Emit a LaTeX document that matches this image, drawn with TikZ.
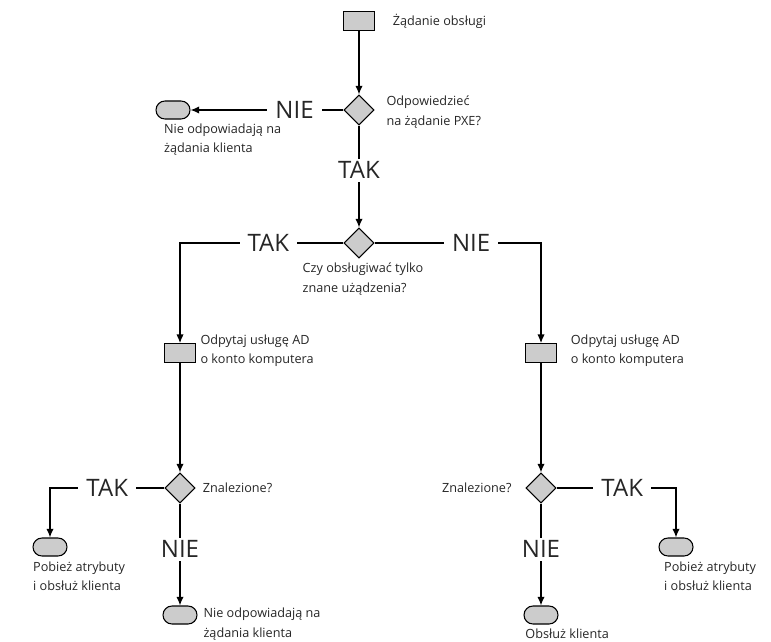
\documentclass[tikz,border=0pt]{standalone}
\usepackage{fontspec}
\setmainfont{Open Sans}
\usetikzlibrary{shapes.geometric,positioning,arrows.meta}

\tikzset{
  akcja/.style={draw, fill=black!20, rectangle, minimum width=23pt, minimum height=14pt, inner sep=0pt, line width=0.8pt},
  decyzja/.style={draw, fill=black!20, diamond, minimum width=22.5pt, minimum height=22.5pt, inner sep=0pt, line width=0.8pt},
  koniec/.style={draw, fill=black!20, rectangle, rounded corners=6.75pt, minimum width=25.5pt, minimum height=13.5pt, inner sep=0pt, line width=0.8pt},
  opis/.style={inner sep=0pt, align=left, text=black!85, font=\fontsize{9.5}{14.5}\selectfont},
  wybor/.style={fill=white, inner xsep=6pt, inner ysep=2pt, text=black!85, font=\fontsize{18}{18}\selectfont},
}

\begin{document}
\begin{tikzpicture}[on grid, >={Latex[length=6.5pt,width=5.5pt]}, line width=1pt]
   \useasboundingbox (0,0) rectangle (578.25pt,-481.5pt);

   \node[akcja] (start) at (269.25pt,-15.75pt) {};
   \node[decyzja] (pxe) [below=66.75pt of start] {};
   \node[koniec] (brak1) [left=139.5pt of pxe] {};
   \node[decyzja] (znane) [below=99.75pt of pxe] {};
   \node[akcja] (adL) [below left=82.5pt and 134.25pt of znane] {};
   \node[akcja] (adP) [below right=82.5pt and 136.5pt of znane] {};
   \node[decyzja] (znL) [below=101.25pt of adL] {};
   \node[decyzja] (znP) [below=101.25pt of adP] {};
   \node[koniec] (atrL) [below left=44.25pt and 97.5pt of znL] {};
   \node[koniec] (brak2) [below=95.25pt of znL] {};
   \node[koniec] (atrP) [below right=44.25pt and 101.25pt of znP] {};
   \node[koniec] (obsluz) [below=95.25pt of znP] {};

   % opisy
   \node[opis, anchor=west] (tStart) at ([xshift=13pt]start.east) {Żądanie obsługi};
   \node[opis, anchor=west] (tPxe) at ([xshift=8.5pt,yshift=-1.5pt]pxe.east) {Odpowiedzieć\\na żądanie PXE?};
   \node[opis, anchor=north west] (tBrak1) at ([xshift=6pt,yshift=-2.5pt]brak1.south west) {Nie odpowiadają na\\żądania klienta};
   \node[opis, anchor=north west] (tZnane) at ([xshift=-42.75pt,yshift=-3pt]znane.south) {Czy obsługiwać tylko\\znane użądzenia?};
   \node[opis, anchor=west] (tAdL) at ([xshift=3pt,yshift=1.5pt]adL.east) {Odpytaj usługę AD\\o konto komputera};
   \node[opis, anchor=west] (tAdP) at ([xshift=10pt,yshift=1.5pt]adP.east) {Odpytaj usługę AD\\o konto komputera};
   \node[opis, anchor=west] (tZnL) at ([xshift=5pt]znL.east) {Znalezione?};
   \node[opis, anchor=east] (tZnP) at ([xshift=-10pt]znP.west) {Znalezione?};
   \node[opis, anchor=north west] (tAtrL) at ([yshift=-3.5pt]atrL.south west) {Pobież atrybuty\\i obsłuż klienta};
   \node[opis, anchor=north west] (tBrak2) at ([xshift=4pt,yshift=-1.5pt]brak2.north east) {Nie odpowiadają na\\żądania klienta};
   \node[opis, anchor=north west] (tAtrP) at ([xshift=3.75pt,yshift=-3.5pt]atrP.south west) {Pobież atrybuty\\i obsłuż klienta};
   \node[opis, anchor=north west] (tObsluz) at ([xshift=1pt,yshift=-2.5pt]obsluz.south west) {Obsłuż klienta};

   \draw[->] (start) -- (pxe);
   \draw[->] (pxe) -- node[wybor, pos=0.32] {NIE} (brak1);
   \draw[->] (pxe) -- node[wybor, pos=0.44] {TAK} (znane);
   \draw[->] (znane) -| node[wybor, pos=0.23] {TAK} (adL);
   \draw[->] (znane) -| node[wybor, pos=0.29] {NIE} (adP);
   \draw[->] (adL) -- (znL);
   \draw[->] (adP) -- (znP);
   \draw[->] (znL) -| node[wybor, pos=0.25] {TAK} (atrL);
   \draw[->] (znL) -- node[wybor, pos=0.45] {NIE} (brak2);
   \draw[->] (znP) -| node[wybor, pos=0.275] {TAK} (atrP);
   \draw[->] (znP) -- node[wybor, pos=0.45] {NIE} (obsluz);
\end{tikzpicture}
\end{document}
